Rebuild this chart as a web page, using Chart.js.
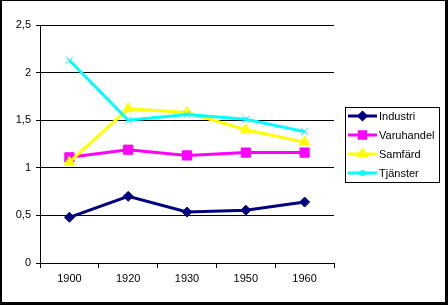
<!DOCTYPE html>
<html>
<head>
<meta charset="utf-8">
<script src="https://cdn.jsdelivr.net/npm/chart.js@4"></script>
<style>
  body { margin: 0; background: #fff; }
  #wrap { width: 448px; height: 305px; }
</style>
</head>
<body>
<div id="wrap"><canvas id="chart" width="448" height="305"></canvas></div>
<script>
const years = ['1900', '1920', '1930', '1950', '1960'];
const industri = [0.48, 0.70, 0.535, 0.555, 0.64];
const varuhandel = [1.11, 1.19, 1.13, 1.16, 1.16];
const samfard = [1.06, 1.62, 1.58, 1.40, 1.27];
const tjanster = [2.13, 1.50, 1.56, 1.51, 1.38];

const font = { family: 'Liberation Sans, Arial', size: 11 };

// legend box drawn by hand, Excel style
const boxLegend = {
  id: 'boxLegend',
  afterDraw(chart) {
    const ctx = chart.ctx;
    ctx.save();
    ctx.strokeStyle = '#000';
    ctx.lineWidth = 1;
    ctx.strokeRect(345.5, 107.5, 94, 75);
    chart.data.datasets.forEach((ds, i) => {
      const y = 116 + i * 19;
      ctx.strokeStyle = ds.borderColor;
      ctx.lineWidth = 3;
      ctx.beginPath();
      ctx.moveTo(348, y);
      ctx.lineTo(377, y);
      ctx.stroke();
      ctx.fillStyle = ds.pointBackgroundColor;
      ctx.strokeStyle = ds.pointBorderColor;
      Chart.helpers.drawPoint(ctx, {
        pointStyle: ds.pointStyle,
        radius: ds.legendRadius,
        rotation: 0,
        borderWidth: 1
      }, 362.5, y);
      ctx.fillStyle = '#000';
      ctx.font = '11px ' + font.family;
      ctx.textBaseline = 'middle';
      ctx.fillText(ds.label, 379, y + 1);
    });
    // outer frame with shadow
    ctx.fillStyle = '#000';
    ctx.fillRect(0, 0, 448, 1);
    ctx.fillRect(0, 0, 2, 305);
    ctx.fillRect(445, 0, 3, 305);
    ctx.fillRect(0, 302, 448, 3);
    ctx.restore();
  }
};

function series(label, data, color, style, radius, legendRadius, order) {
  return {
    label: label,
    data: data,
    order: order,
    borderColor: color,
    backgroundColor: color,
    pointBackgroundColor: color,
    pointBorderColor: color,
    borderWidth: 3,
    pointStyle: style,
    pointRadius: radius,
    pointHoverRadius: radius,
    pointBorderWidth: 1,
    legendRadius: legendRadius,
    tension: 0
  };
}

new Chart(document.getElementById('chart'), {
  type: 'line',
  data: {
    labels: years,
    datasets: [
      series('Industri', industri, '#000080', 'rectRot', 5, 3.5, 4),
      series('Varuhandel', varuhandel, '#FF00FF', 'rect', 6.5, 4.5, 3),
      series('Samfärd', samfard, '#FFFF00', 'triangle', 6, 4, 2),
      series('Tjänster', tjanster, '#00FFFF', 'crossRot', 5, 3, 1)
    ]
  },
  options: {
    responsive: false,
    animation: false,
    layout: { padding: { left: 0, top: 25, right: 114, bottom: 0 } },
    plugins: {
      legend: { display: false },
      tooltip: { enabled: false }
    },
    scales: {
      x: {
        offset: true,
        grid: { offset: true, drawOnChartArea: false, color: '#000', tickLength: 5 },
        border: { color: '#000', width: 1 },
        ticks: { color: '#000', font: font, padding: 4, maxRotation: 0 },
        afterFit(scale) { scale.height = 42; }
      },
      y: {
        min: 0,
        max: 2.5,
        grid: { color: '#000', tickLength: 4 },
        border: { color: '#000', width: 1 },
        ticks: {
          stepSize: 0.5,
          color: '#000',
          font: font,
          padding: 5,
          callback: v => String(v).replace('.', ',')
        },
        afterFit(scale) { scale.width = 40; }
      }
    }
  },
  plugins: [boxLegend]
});
</script>
</body>
</html>
